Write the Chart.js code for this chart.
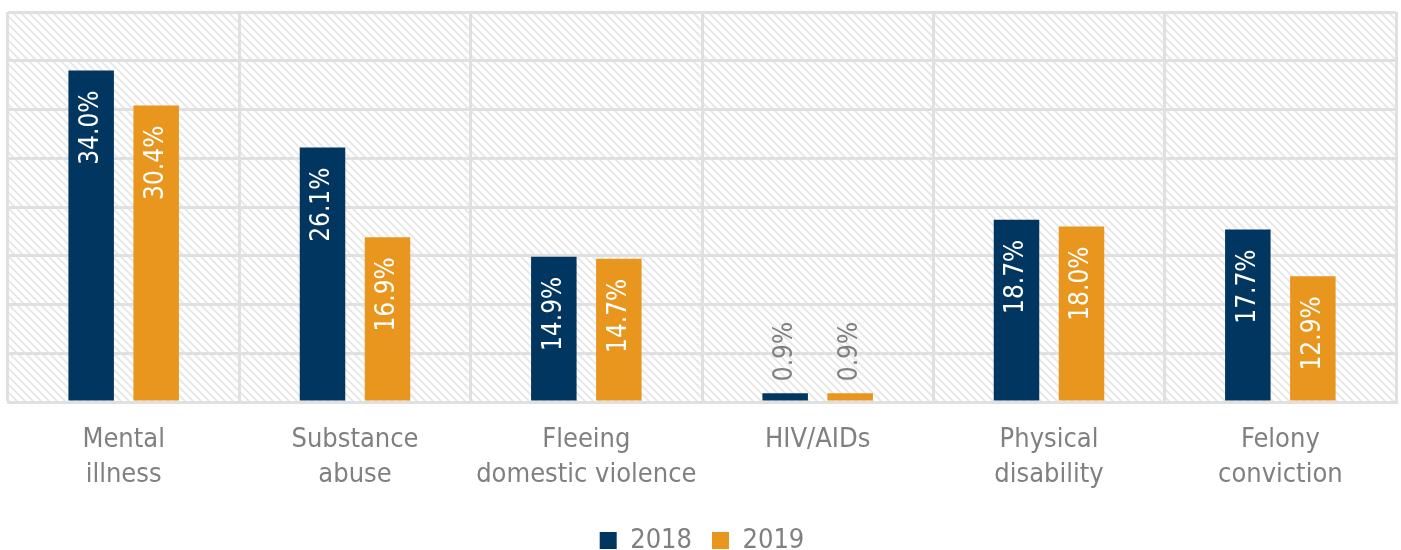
<!DOCTYPE html>
<html>
<head>
<meta charset="utf-8">
<script src="https://cdn.jsdelivr.net/npm/chart.js@4.4.1/dist/chart.umd.min.js"></script>
<style>
  html, body { margin: 0; padding: 0; background: #fff; }
  #wrap { width: 1401px; height: 550px; position: relative; }
</style>
</head>
<body>
<div id="wrap"><canvas id="chart"></canvas></div>
<script>
const categories = [
  ['Mental', 'illness'],
  ['Substance', 'abuse'],
  ['Fleeing', 'domestic violence'],
  'HIV/AIDs',
  ['Physical', 'disability'],
  ['Felony', 'conviction']
];
const values2018 = [34.0, 26.1, 14.9, 0.9, 18.7, 17.7];
const values2019 = [30.4, 16.9, 14.7, 0.9, 18.0, 12.9];
const seriesNames = ['2018', '2019'];

const FONT = "'DejaVu Sans Condensed', 'Liberation Sans Narrow', 'Roboto', sans-serif";
const GRID = '#e0e0e0';
const TEXT = '#808080';

// diagonal hatch behind the plot
function hatchPattern(ctx) {
  const s = 8;
  const c = document.createElement('canvas');
  c.width = s;
  c.height = s;
  const p = c.getContext('2d');
  p.fillStyle = '#fff';
  p.fillRect(0, 0, s, s);
  p.strokeStyle = '#e8e8e8';
  p.lineWidth = 2;
  p.beginPath();
  p.moveTo(-1, -1); p.lineTo(s + 1, s + 1);
  p.moveTo(-1, s - 1); p.lineTo(1, s + 1);
  p.moveTo(s - 1, -1); p.lineTo(s + 1, 1);
  p.stroke();
  return ctx.createPattern(c, 'repeat');
}

const hatchPlugin = {
  id: 'hatch',
  beforeDraw(chart) {
    const { ctx, chartArea: a } = chart;
    ctx.save();
    ctx.fillStyle = hatchPattern(ctx);
    ctx.fillRect(a.left, a.top, a.right - a.left, a.bottom - a.top);
    ctx.restore();
  }
};

// rotated value labels inside the bars (above when the bar is too short)
const barLabels = {
  id: 'barLabels',
  afterDatasetsDraw(chart) {
    const ctx = chart.ctx;
    ctx.save();
    ctx.font = '26px ' + FONT;
    ctx.textBaseline = 'middle';
    chart.data.datasets.forEach((ds, i) => {
      const meta = chart.getDatasetMeta(i);
      meta.data.forEach((bar, j) => {
        const txt = ds.data[j].toFixed(1) + '%';
        const w = ctx.measureText(txt).width;
        const h = bar.base - bar.y;
        ctx.save();
        if (h > w + 25) {
          ctx.translate(bar.x, bar.y + 20);
          ctx.rotate(-Math.PI / 2);
          ctx.textAlign = 'right';
          ctx.fillStyle = '#fff';
        } else {
          ctx.translate(bar.x, bar.y - 12);
          ctx.rotate(-Math.PI / 2);
          ctx.textAlign = 'left';
          ctx.fillStyle = TEXT;
        }
        ctx.fillText(txt, 0, 0);
        ctx.restore();
      });
    });
    ctx.restore();
  }
};

new Chart(document.getElementById('chart'), {
  type: 'bar',
  data: {
    labels: categories,
    datasets: [
      { label: seriesNames[0], data: values2018, backgroundColor: '#003660' },
      { label: seriesNames[1], data: values2019, backgroundColor: '#e8961e' }
    ]
  },
  options: {
    responsive: true,
    maintainAspectRatio: false,
    animation: false,
    datasets: {
      bar: { categoryPercentage: 0.562, barPercentage: 0.7 }
    },
    layout: { padding: { left: 8, right: 5, top: 12, bottom: -14 } },
    scales: {
      x: {
        grid: { color: GRID, lineWidth: 3, drawTicks: false, offset: true },
        border: { color: GRID, width: 3 },
        ticks: {
          color: TEXT,
          padding: 20,
          maxRotation: 0,
          minRotation: 0,
          autoSkip: false,
          font: { family: FONT, size: 27, lineHeight: 1.3 }
        },
        afterFit(scale) { scale.height = 105; }
      },
      y: {
        min: 0,
        max: 40,
        ticks: { display: false, stepSize: 5 },
        grid: { color: GRID, lineWidth: 3, drawTicks: false },
        border: { display: false },
        afterFit(scale) { scale.width = 0; }
      }
    },
    plugins: {
      legend: {
        position: 'bottom',
        labels: {
          color: TEXT,
          boxWidth: 17,
          boxHeight: 17,
          padding: 20,
          font: { family: FONT, size: 27 }
        }
      },
      tooltip: { enabled: false }
    }
  },
  plugins: [hatchPlugin, barLabels]
});
</script>
</body>
</html>
